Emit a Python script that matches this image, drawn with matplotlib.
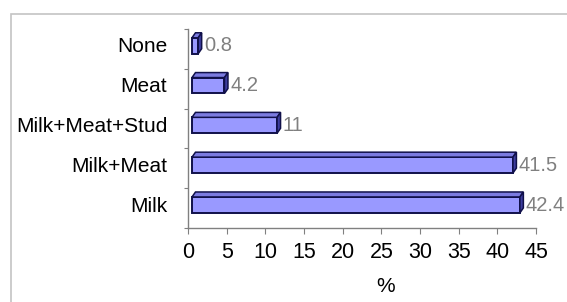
import matplotlib
matplotlib.use("Agg")
import matplotlib.pyplot as plt
import matplotlib.transforms as mtrans
from matplotlib.patches import Polygon, Rectangle

plt.rcParams['font.family'] = ['Liberation Sans', 'DejaVu Sans']

# data (bottom to top)
categories = ['Milk', 'Milk+Meat', 'Milk+Meat+Stud', 'Meat', 'None']
values = [42.4, 41.5, 11, 4.2, 0.8]
value_labels = ['42.4', '41.5', '11', '4.2', '0.8']
xticks = [0, 5, 10, 15, 20, 25, 30, 35, 40, 45]

front_col = '#9999ff'
top_col = '#7b7be0'
side_col = '#3d3d9e'
edge_col = '#10104a'
axis_col = '#808080'

fig = plt.figure(figsize=(5.67, 3.02), dpi=100)
ax = fig.add_axes([188 / 567, 74 / 302, 348 / 567, 199 / 302])
ax.set_xlim(0, 45)
ax.set_ylim(-0.5, 4.5)

# 3d look: bars shifted a little off the axis, with a top and side face
shift = mtrans.offset_copy(ax.transData, fig=fig, x=4, y=0, units='dots')
h = 0.4
dx, dy = 0.45, 0.125
for i, v in enumerate(values):
    yc = i + 0.08
    yb, yt = yc - h / 2, yc + h / 2
    ax.add_patch(Rectangle((0, yb), v, h, facecolor=front_col,
                           edgecolor=edge_col, lw=1.4, transform=shift))
    ax.add_patch(Polygon([(0, yt), (v, yt), (v + dx, yt + dy), (dx, yt + dy)],
                         closed=True, facecolor=top_col, edgecolor=edge_col,
                         lw=1.1, transform=shift))
    ax.add_patch(Polygon([(v, yb), (v, yt), (v + dx, yt + dy), (v + dx, yb + dy)],
                         closed=True, facecolor=side_col, edgecolor=edge_col,
                         lw=1.1, transform=shift))
    ax.text(v + dx + 0.3, i + 0.075, value_labels[i], transform=shift,
            ha='left', va='center', fontsize=14.5, color='#808080')

# axes styling
for s in ['top', 'right']:
    ax.spines[s].set_visible(False)
for s in ['left', 'bottom']:
    ax.spines[s].set_color(axis_col)
    ax.spines[s].set_linewidth(1.0)

ax.set_xticks(xticks)
ax.set_xticklabels([str(t) for t in xticks])
ax.tick_params(axis='x', length=4, color=axis_col, labelsize=15.5, pad=6)

ax.set_yticks([i - 0.5 for i in range(len(categories) + 1)])
ax.set_yticklabels([])
ax.tick_params(axis='y', which='major', length=3, color=axis_col)
ax.set_yticks([i + 0.1 for i in range(len(categories))], categories, minor=True)
ax.tick_params(axis='y', which='minor', length=0, labelsize=15, pad=15)

fig.text(386 / 567, 1 - 287 / 302, '%', ha='center', va='center', fontsize=15)

# outer frame
fig.patches.append(Rectangle((11 / 567, -0.1), 1.2, 1.1 - 14 / 302,
                             transform=fig.transFigure, fill=False,
                             edgecolor='#c4c4c4', lw=1.2))

fig.savefig('out.png', dpi=100)
